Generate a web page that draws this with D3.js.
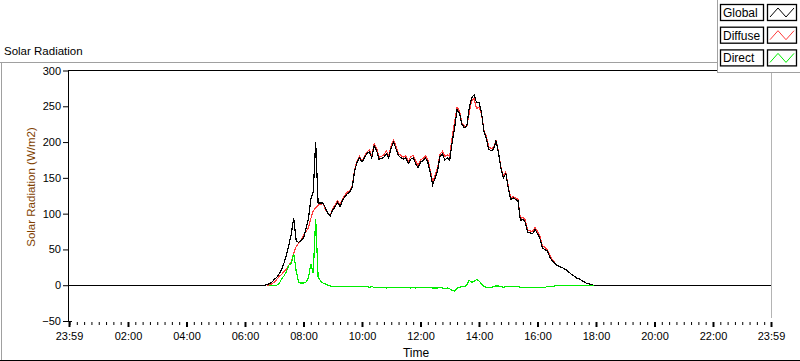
<!DOCTYPE html>
<html>
<head>
<meta charset="utf-8">
<script src="https://cdn.jsdelivr.net/npm/d3@7"></script>
<style>
  html, body { margin: 0; padding: 0; background: #fff; }
  svg { display: block; font-family: "Liberation Sans", Arial, sans-serif; }
</style>
</head>
<body>
<svg id="chart" width="800" height="361"></svg>
<script>
// ── Data (W/m2, 5-minute samples during daylight) ────────────────────────────
const times = [
  '00:00',
  '06:40', '06:45', '06:50', '06:55',
  '07:00', '07:05', '07:10', '07:15', '07:20', '07:25', '07:30', '07:35', '07:40', '07:45', '07:50', '07:55',
  '08:00', '08:05', '08:10', '08:15', '08:20', '08:25', '08:30', '08:35', '08:40', '08:45', '08:50', '08:55',
  '09:00', '09:05', '09:10', '09:15', '09:20', '09:25', '09:30', '09:35', '09:40', '09:45', '09:50', '09:55',
  '10:00', '10:05', '10:10', '10:15', '10:20', '10:25', '10:30', '10:35', '10:40', '10:45', '10:50', '10:55',
  '11:00', '11:05', '11:10', '11:15', '11:20', '11:25', '11:30', '11:35', '11:40', '11:45', '11:50', '11:55',
  '12:00', '12:05', '12:10', '12:15', '12:20', '12:25', '12:30', '12:35', '12:40', '12:45', '12:50', '12:55',
  '13:00', '13:05', '13:10', '13:15', '13:20', '13:25', '13:30', '13:35', '13:40', '13:45', '13:50', '13:55',
  '14:00', '14:05', '14:10', '14:15', '14:20', '14:25', '14:30', '14:35', '14:40', '14:45', '14:50', '14:55',
  '15:00', '15:05', '15:10', '15:15', '15:20', '15:25', '15:30', '15:35', '15:40', '15:45', '15:50', '15:55',
  '16:00', '16:05', '16:10', '16:15', '16:20', '16:25', '16:30', '16:35', '16:40', '16:45', '16:50', '16:55',
  '17:00', '17:05', '17:10', '17:15', '17:20', '17:25', '17:30', '17:35', '17:40', '17:45', '17:50', '17:55',
  '18:00',
  '23:59'
];

const globalRad = [
  0,
  0, 1, 2, 4,
  8, 11, 16, 22, 31, 42, 56, 72, 94, 62, 60, 62,
  66, 78, 92, 120, 130, 200, 115, 115, 115, 108, 100, 97,
  105, 110, 116, 110, 118, 124, 128, 130, 137, 160, 172, 178,
  172, 178, 184, 186, 178, 195, 188, 176, 177, 179, 184, 178,
  192, 200, 190, 181, 178, 176, 178, 170, 176, 178, 170, 164,
  172, 174, 178, 172, 158, 140, 150, 160, 180, 183, 175, 178,
  175, 200, 220, 245, 240, 225, 220, 222, 248, 262, 266, 255,
  255, 242, 215, 205, 190, 188, 190, 202, 185, 163, 150, 156,
  136, 120, 122, 120, 118, 90, 92, 88, 74, 73, 72, 78,
  72, 65, 52, 50, 48, 40, 34, 31, 28, 26, 25, 23,
  21, 18, 15, 13, 10, 9, 7, 5, 3, 2, 1, 0,
  0,
  0
];

const diffuseRad = [
  null,
  null, 0, 0, 2,
  4, 8, 12, 15, 19, 22, 28, 33, 45, 54, 59, 63,
  70, 75, 80, 93, 104, 108, 112, 113, 114, 106, 100, 98,
  107, 112, 118, 112, 120, 126, 130, 132, 139, 162, 174, 180,
  174, 180, 186, 189, 180, 198, 191, 179, 180, 182, 188, 181,
  195, 203, 193, 184, 181, 179, 181, 173, 180, 181, 174, 167,
  175, 177, 181, 175, 161, 144, 154, 164, 183, 187, 180, 182,
  180, 207, 228, 249, 243, 227, 222, 222, 241, 258, 261, 247,
  249, 240, 217, 208, 193, 191, 192, 203, 186, 165, 153, 158,
  138, 122, 124, 122, 120, 93, 95, 91, 77, 76, 75, 81,
  75, 68, 55, 53, 50, 42, 36, 32, 28, 26, 25, 23,
  21, 18, 15, 13, 10, 9, 7, 5, 3, 2, 1, 0,
  null,
  null
];

const directRad = [
  null,
  null, null, 0, 0,
  0, 0, 2, 9, 13, 19, 28, 31, 44, 20, 4, 3,
  3, 4, 10, 30, 17, 93, 12, 6, 3, 2, 0, -1,
  -2, -2, -2, -2, -2, -2, -2, -2, -2, -2, -2, -2,
  -2, -2, -2, -3, -2, -3, -3, -3, -3, -3, -4, -3,
  -3, -3, -3, -3, -3, -3, -3, -3, -4, -3, -4, -3,
  -3, -3, -3, -3, -3, -4, -4, -4, -3, -4, -5, -4,
  -5, -7, -8, -4, -3, -2, -2, 0, 7, 4, 5, 8,
  6, 2, -2, -3, -3, -3, -2, -1, -1, -2, -3, -2,
  -2, -2, -2, -2, -2, -3, -3, -3, -3, -3, -3, -3,
  -3, -3, -3, -3, -2, -2, -2, -1, 0, 0, 0, 0,
  0, 0, 0, 0, 0, 0, 0, 0, 0, 0, 0, 0,
  null,
  null
];

const seriesNames = ['Global', 'Diffuse', 'Direct'];
const yTicks = [-50, 0, 50, 100, 150, 200, 250, 300];
const xTickLabels = ['02:00', '04:00', '06:00', '08:00', '10:00', '12:00',
                     '14:00', '16:00', '18:00', '20:00', '22:00'];

// ── Styling ──────────────────────────────────────────────────────────────────
const COLORS = { Global: '#000000', Diffuse: '#ff3c3c', Direct: '#00ee00' };
const FRAME_GRAY = '#a0a0a0';

const parseT = s => {
  const [h, m] = s.split(':').map(Number);
  return new Date(2000, 0, 1, h, m);
};
const xStart = new Date(1999, 11, 31, 23, 59);   // previous day 23:59
const xEnd   = parseT('23:59');

const svg = d3.select('#chart');

// ── Outer panel ──────────────────────────────────────────────────────────────
svg.append('line').attr('x1', 0).attr('x2', 718).attr('y1', 62.5).attr('y2', 62.5)
  .attr('stroke', FRAME_GRAY);
svg.append('line').attr('x1', 1.5).attr('x2', 1.5).attr('y1', 62).attr('y2', 360)
  .attr('stroke', FRAME_GRAY);
svg.append('line').attr('x1', 0).attr('x2', 800).attr('y1', 360.5).attr('y2', 360.5)
  .attr('stroke', '#000');

svg.append('text')
  .attr('x', 4).attr('y', 55)
  .attr('font-size', 11.5).attr('fill', '#000')
  .text('Solar Radiation');

// ── Scales ───────────────────────────────────────────────────────────────────
const x = d3.scaleTime().domain([xStart, xEnd]).range([69, 771]);
const y = d3.scaleLinear().domain([-50, 300]).range([321, 70.5]);

// plot frame: dark top, light right
svg.append('line').attr('x1', 68).attr('x2', 771).attr('y1', 70.5).attr('y2', 70.5)
  .attr('stroke', '#000');
svg.append('line').attr('x1', 771.5).attr('x2', 771.5).attr('y1', 70).attr('y2', 318)
  .attr('stroke', '#b4b4b4');
svg.append('line').attr('x1', 68).attr('x2', 72).attr('y1', 321.5).attr('y2', 321.5)
  .attr('stroke', '#000');

// ── Y axis ───────────────────────────────────────────────────────────────────
const yAxis = svg.append('g')
  .attr('transform', 'translate(68,0)')
  .call(d3.axisLeft(y).tickValues(yTicks).tickSize(5).tickSizeOuter(0).tickPadding(2));
yAxis.select('.domain').attr('stroke', '#000');
yAxis.selectAll('text')
  .attr('font-size', 11).attr('fill', '#000')
  .attr('font-family', '"Liberation Sans", Arial, sans-serif');

svg.append('text')
  .attr('transform', 'translate(35,187) rotate(-90)')
  .attr('text-anchor', 'middle')
  .attr('font-size', 11.5).attr('fill', '#7f3f00')
  .text('Solar Radiation (W/m2)');

// ── X axis: minor ticks every 15 min, labelled majors every 2 h ─────────────
const xMinor = svg.append('g')
  .attr('transform', 'translate(0,322)')
  .call(d3.axisBottom(x).ticks(d3.timeMinute.every(15)).tickSize(3).tickFormat(''));
xMinor.select('.domain').remove();

const xMajorVals = [xStart, ...xTickLabels.map(parseT), xEnd];
const xMajor = svg.append('g')
  .attr('transform', 'translate(0,322)')
  .call(d3.axisBottom(x).tickValues(xMajorVals).tickSize(5).tickPadding(5)
    .tickFormat(d3.timeFormat('%H:%M')));
xMajor.select('.domain').remove();
xMajor.selectAll('line').attr('stroke-width', 2);
xMajor.selectAll('text')
  .attr('font-size', 11).attr('fill', '#000')
  .attr('font-family', '"Liberation Sans", Arial, sans-serif');

svg.append('text')
  .attr('x', 416).attr('y', 357)
  .attr('text-anchor', 'middle')
  .attr('font-size', 12).attr('fill', '#000')
  .text('Time');

// ── Series ───────────────────────────────────────────────────────────────────
const tParsed = times.map(parseT);
const seriesVals = { Global: globalRad, Diffuse: diffuseRad, Direct: directRad };

const line = d3.line()
  .defined(d => d.v != null)
  .x(d => x(d.t))
  .y(d => y(d.v));

// draw order: diffuse below, global over it, direct on top
['Diffuse', 'Global', 'Direct'].forEach(name => {
  const pts = tParsed.map((t, i) => ({ t, v: seriesVals[name][i] }));
  svg.append('path')
    .datum(pts)
    .attr('fill', 'none')
    .attr('stroke', COLORS[name])
    .attr('stroke-width', 1.2)
    .attr('shape-rendering', 'crispEdges')
    .attr('d', line);
});

// ── Legend ───────────────────────────────────────────────────────────────────
svg.append('rect')
  .attr('x', 717.5).attr('y', -1).attr('width', 90).attr('height', 73.5)
  .attr('fill', '#fff').attr('stroke', FRAME_GRAY);

const leg = svg.append('g').attr('transform', 'translate(720,4)');
seriesNames.forEach((name, i) => {
  const g = leg.append('g').attr('transform', `translate(0,${i * 22.7})`);
  g.append('rect')
    .attr('x', 0.5).attr('y', 0.5).attr('width', 43).attr('height', 16)
    .attr('fill', '#fff').attr('stroke', '#000').attr('stroke-width', 1.3);
  g.append('text')
    .attr('x', 3).attr('y', 13)
    .attr('font-size', 12).attr('fill', '#000')
    .text(name);
  g.append('rect')
    .attr('x', 47.5).attr('y', 0.5).attr('width', 29).attr('height', 16)
    .attr('fill', '#fff').attr('stroke', '#000').attr('stroke-width', 1.3);
  g.append('path')
    .attr('d', 'M50,13 L58,4 L66,13 L74,4')
    .attr('fill', 'none')
    .attr('stroke', COLORS[name]);
});
</script>
</body>
</html>
